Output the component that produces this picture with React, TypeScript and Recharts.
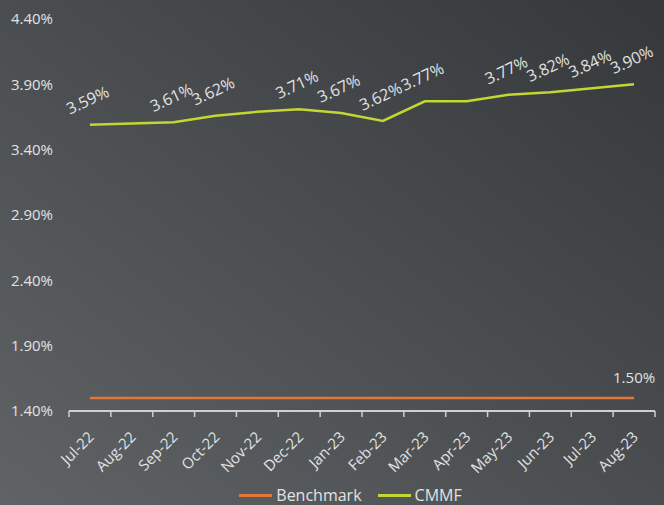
import { LineChart, Line, XAxis, YAxis, Legend, LabelList } from "recharts";

const months = [
  "Jul-22", "Aug-22", "Sep-22", "Oct-22", "Nov-22", "Dec-22", "Jan-23",
  "Feb-23", "Mar-23", "Apr-23", "May-23", "Jun-23", "Jul-23", "Aug-23",
];
const cmmf = [3.59, 3.6, 3.61, 3.66, 3.69, 3.71, 3.68, 3.62, 3.77, 3.77, 3.82, 3.84, 3.87, 3.9];
const benchmark = [1.5, 1.5, 1.5, 1.5, 1.5, 1.5, 1.5, 1.5, 1.5, 1.5, 1.5, 1.5, 1.5, 1.5];
const cmmfLabels = [
  "3.59%", null, "3.61%", "3.62%", null, "3.71%", "3.67%",
  "3.62%", "3.77%", null, "3.77%", "3.82%", "3.84%", "3.90%",
];
const benchmarkLabels = [null, null, null, null, null, null, null, null, null, null, null, null, null, "1.50%"];
const yTicks = [1.4, 1.9, 2.4, 2.9, 3.4, 3.9, 4.4];

const data = months.map((m, i) => ({ month: m, Benchmark: benchmark[i], CMMF: cmmf[i] }));

const FONT = "'Open Sans', 'Noto Sans', sans-serif";
const TEXT = "#e2e2e2";
const ORANGE = "#e0783a";
const GREEN = "#c4d631";
const BAND = (655 - 69) / months.length;

function MonthTick(props: any) {
  const { x, y, payload, index } = props;
  const last = index === months.length - 1;
  const ax = x + 5;
  const ay = y + 19;
  return (
    <g>
      <line x1={x - BAND / 2} y1={y - 8} x2={x - BAND / 2} y2={y - 2} stroke="#cfcfcf" strokeWidth={1.5} />
      {last && <line x1={x + BAND / 2} y1={y - 8} x2={x + BAND / 2} y2={y - 2} stroke="#cfcfcf" strokeWidth={1.5} />}
      <text x={ax} y={ay} textAnchor="end" fill={TEXT} fontSize={15} fontFamily={FONT} transform={`rotate(-45 ${ax} ${ay})`}>
        {payload.value}
      </text>
    </g>
  );
}

function CmmfLabel(props: any) {
  const { x, y, index } = props;
  const t = cmmfLabels[index];
  if (!t) return null;
  const cx = x - 2;
  const cy = y - 24;
  return (
    <text x={cx} y={cy + 5} textAnchor="middle" fill={TEXT} fontSize={16} fontFamily={FONT} transform={`rotate(-25 ${cx} ${cy})`}>
      {t}
    </text>
  );
}

function BenchLabel(props: any) {
  const { x, y, index } = props;
  const t = benchmarkLabels[index];
  if (!t) return null;
  return (
    <text x={x} y={y - 15} textAnchor="middle" fill={TEXT} fontSize={15} fontFamily={FONT}>
      {t}
    </text>
  );
}

function LegendBox(props: any) {
  const { payload } = props;
  return (
    <div
      style={{
        display: "flex",
        justifyContent: "center",
        gap: 16,
        paddingLeft: 46,
        fontFamily: FONT,
        fontSize: 16,
        color: TEXT,
        lineHeight: "20px",
      }}
    >
      {payload.map((p: any) => (
        <div key={p.value} style={{ display: "flex", alignItems: "center" }}>
          <span style={{ display: "inline-block", width: 33, height: 3, background: p.color, marginRight: 4 }} />
          <span>{p.value}</span>
        </div>
      ))}
    </div>
  );
}

export default function App() {
  return (
    <div
      style={{
        position: "absolute",
        left: 0,
        top: 0,
        width: 664,
        height: 505,
        background: "linear-gradient(to top right, #5f6365, #34383a)",
      }}
    >
      <LineChart width={664} height={505} data={data} margin={{ top: 19, right: 9, left: 0, bottom: 0 }}>
        <XAxis
          dataKey="month"
          interval={0}
          tick={<MonthTick />}
          tickLine={false}
          axisLine={{ stroke: "#cfcfcf", strokeWidth: 2 }}
          padding={{ left: BAND / 2, right: BAND / 2 }}
          height={74}
        />
        <YAxis
          width={69}
          domain={[1.4, 4.4]}
          ticks={yTicks}
          tickFormatter={(v: number) => v.toFixed(2) + "%"}
          axisLine={false}
          tickLine={false}
          tickMargin={10}
          tick={{ fill: TEXT, fontSize: 15, fontFamily: FONT }}
        />
        <Legend verticalAlign="bottom" content={<LegendBox />} />
        <Line dataKey="Benchmark" stroke={ORANGE} strokeWidth={2.5} dot={false} isAnimationActive={false}>
          <LabelList dataKey="Benchmark" content={<BenchLabel />} />
        </Line>
        <Line dataKey="CMMF" stroke={GREEN} strokeWidth={2.5} dot={false} isAnimationActive={false}>
          <LabelList dataKey="CMMF" content={<CmmfLabel />} />
        </Line>
      </LineChart>
    </div>
  );
}
